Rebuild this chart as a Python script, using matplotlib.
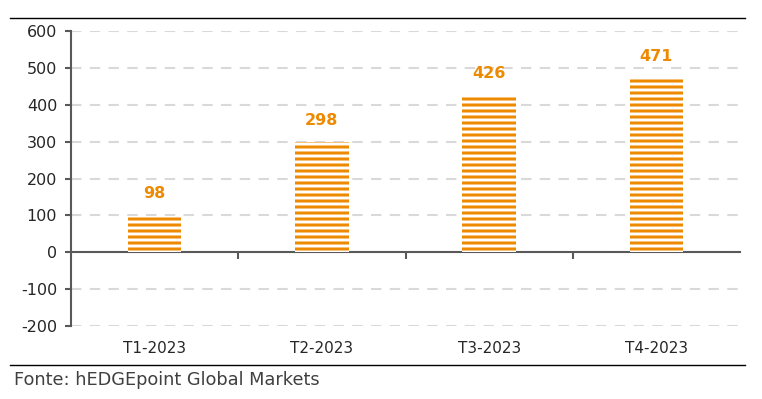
import matplotlib.pyplot as plt
from matplotlib.lines import Line2D

categories = ['T1-2023', 'T2-2023', 'T3-2023', 'T4-2023']
values = [98, 298, 426, 471]
y_ticks = [-200, -100, 0, 100, 200, 300, 400, 500, 600]
source = 'Fonte: hEDGEpoint Global Markets'

orange = '#EE8A00'
DPI = 108          # 18 hatch lines per inch -> clean 6 px stripes
k = 100 / DPI      # keep sizes as if drawn at 100 dpi

plt.rcParams['font.family'] = ['DejaVu Sans']
plt.rcParams['axes.unicode_minus'] = False
plt.rcParams['hatch.linewidth'] = 2.2 * k

fig = plt.figure(figsize=(762 / DPI, 399 / DPI), dpi=DPI)
ax = fig.add_axes([0.0932, 0.183, 0.878, 0.739])

x = range(len(categories))
ax.bar(x, values, width=0.32, color='white', edgecolor=orange,
       linewidth=0, hatch='---', zorder=3)

for xi, v in zip(x, values):
    ax.annotate(str(v), (xi, v), xytext=(0, 16 * k), textcoords='offset points',
                ha='center', va='center', color=orange, fontsize=11.5 * k,
                fontweight='bold')

ax.set_xlim(-0.5, 3.5)
ax.set_ylim(-200, 600)
ax.set_yticks(y_ticks)
ax.yaxis.grid(True, color='#d9d9d9', linestyle=(0, (5, 4)), linewidth=1.5 * k)
ax.set_axisbelow(True)

for s in ['top', 'right']:
    ax.spines[s].set_visible(False)
ax.spines['left'].set_color('#595959')
ax.spines['left'].set_linewidth(1.5 * k)
ax.spines['bottom'].set_position(('data', 0))
ax.spines['bottom'].set_color('#595959')
ax.spines['bottom'].set_linewidth(1.5 * k)

ax.set_xticks([0.5, 1.5, 2.5])
ax.set_xticklabels([])
ax.tick_params(axis='x', length=5 * k, width=1.5 * k, color='#595959')
ax.tick_params(axis='y', length=4 * k, width=1.5 * k, color='#595959',
               labelsize=11.5 * k, labelcolor='#262626', pad=6 * k)

for xi, c in zip(x, categories):
    ax.text(xi, -0.075, c, transform=ax.get_xaxis_transform(),
            ha='center', va='center', fontsize=11 * k, color='#262626')

fig.add_artist(Line2D([0.013, 0.978], [1 - 18 / 399] * 2, color='black', linewidth=1 * k))
fig.add_artist(Line2D([0.013, 0.978], [1 - 365 / 399] * 2, color='black', linewidth=1 * k))
fig.text(0.018, 1 - 380 / 399, source, ha='left', va='center',
         fontsize=12.8 * k, color='#404040')

fig.savefig('out.png', dpi=DPI)
